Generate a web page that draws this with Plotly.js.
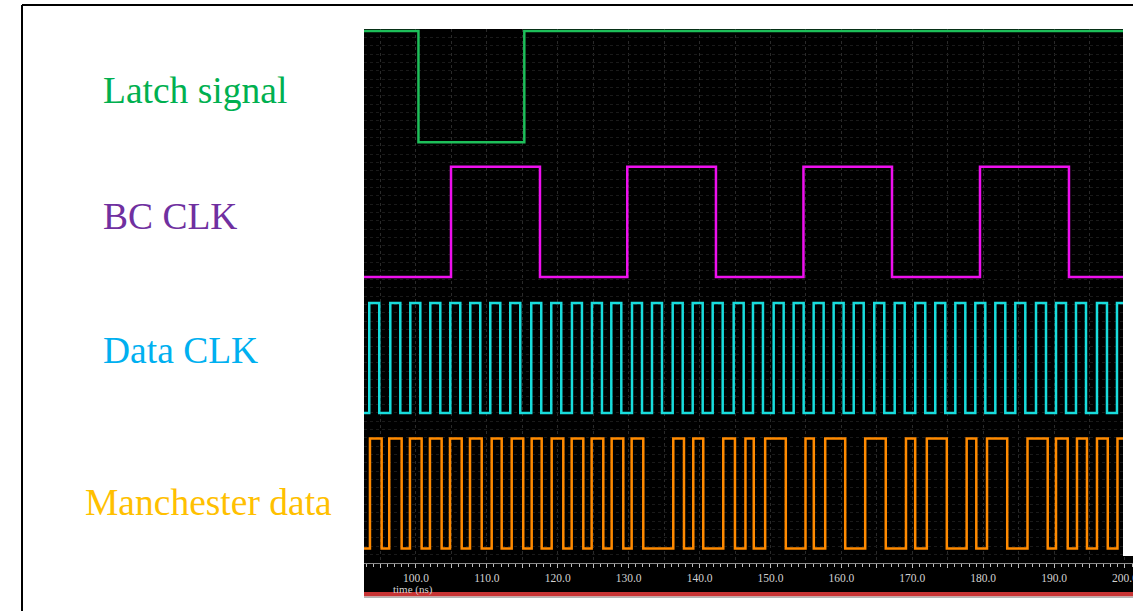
<!DOCTYPE html>
<html>
<head>
<meta charset="utf-8">
<script src="https://cdn.plot.ly/plotly-3.0.1.min.js"></script>
<style>
  html, body { margin: 0; padding: 0; background: #ffffff; }
  #chart { width: 1133px; height: 611px; }
</style>
</head>
<body>
<div id="chart"></div>
<script>
// ---- Signal data (times in ns) ----
const signalNames = ['Latch signal', 'BC CLK', 'Data CLK', 'Manchester data'];

// Latch: high, pulses low once
const latchStart = 1;
const latchFalls = [100.35];
const latchRises = [115.28];

// BC clock (40 MHz)
const bcStart = 0;
const bcRises = [104.94, 129.80, 154.65, 179.55];
const bcFalls = [117.49, 142.31, 167.14, 192.10];

// Data clock
const dataClkStart = 0;
const dataClkRises = [93.41, 96.38, 99.20, 102.02, 104.84, 107.66, 110.48, 113.30, 116.26, 119.08,
  122.00, 124.82, 127.55, 130.47, 133.29, 136.21, 139.03, 141.85, 144.81, 147.53,
  150.45, 153.27, 156.09, 158.91, 161.74, 164.64, 167.52, 170.42, 173.24, 176.07,
  178.89, 181.71, 184.53, 187.45, 190.27, 193.09, 196.05, 198.87];
const dataClkFalls = [94.82, 97.79, 100.61, 103.43, 106.25, 109.07, 111.89, 114.71, 117.67, 120.49,
  123.41, 126.23, 128.96, 131.88, 134.70, 137.62, 140.44, 143.26, 146.22, 148.94,
  151.86, 154.68, 157.50, 160.32, 163.15, 166.05, 168.93, 171.83, 174.65, 177.48,
  180.30, 183.12, 185.94, 188.86, 191.68, 194.50, 197.46];

// Manchester encoded data
const manchesterStart = 0;
const manchesterRises = [93.51, 96.23, 99.15, 101.97, 104.80, 107.62, 110.68, 113.50, 116.32, 119.14,
  121.96, 124.78, 127.60, 130.42, 136.29, 139.11, 143.34, 146.47, 149.25, 154.94,
  157.72, 163.36, 169.11, 172.05, 177.67, 180.54, 186.25, 190.27, 193.23, 196.05, 198.94];
const manchesterFalls = [95.16, 97.98, 100.80, 103.62, 106.45, 109.27, 112.09, 115.13, 117.73, 120.78,
  123.60, 126.42, 129.24, 132.06, 137.80, 140.52, 144.99, 147.64, 152.16, 156.11,
  160.54, 166.26, 170.41, 174.87, 179.03, 183.39, 189.10, 191.92, 194.64, 197.57];

// Time axis
const viewStart = 92.67;
const viewEnd = 199.72;
const tickTimes = [100, 110, 120, 130, 140, 150, 160, 170, 180, 190, 200];
const tickLabels = ['100.0', '110.0', '120.0', '130.0', '140.0', '150.0', '160.0', '170.0', '180.0', '190.0', '200.0'];
const axisTitle = 'time (ns)';

// ---- Page geometry (pixels) ----
const W = 1133, H = 611;
const PL = 364, PR = 1133, PT = 29, PB = 563;
const waveRight = 1123;
const fx = px => (px - PL) / (PR - PL);
const fy = py => (PB - py) / (PB - PT);
const pxPerNs = (waveRight - PL) / (viewEnd - viewStart);
const axisEnd = viewStart + (PR - PL) / pxPerNs;

// lane placement: pixel rows of the high and low levels
const lanes = [
  { hi: 31,    lo: 142.3, color: '#1ebf5a', label: '#00b050', labelX: 101, labelY: 91 },
  { hi: 166.7, lo: 277,   color: '#ee10ee', label: '#7030a0', labelX: 101, labelY: 217 },
  { hi: 303,   lo: 413,   color: '#18dcdc', label: '#00b0f0', labelX: 101, labelY: 351 },
  { hi: 438.5, lo: 548.5, color: '#ff8a00', label: '#ffc000', labelX: 83,  labelY: 502 }
];

// Build a digital step waveform from start level and edge lists
function stepWave(start, rises, falls) {
  const edges = rises.map(t => [t, 1]).concat(falls.map(t => [t, 0])).sort((a, b) => a[0] - b[0]);
  const xs = [viewStart], ys = [start];
  edges.forEach(([t, lvl]) => { xs.push(t); ys.push(lvl); });
  xs.push(viewEnd); ys.push(ys[ys.length - 1]);
  return { xs, ys };
}

const waves = [
  stepWave(latchStart, latchRises, latchFalls),
  stepWave(bcStart, bcRises, bcFalls),
  stepWave(dataClkStart, dataClkRises, dataClkFalls),
  stepWave(manchesterStart, manchesterRises, manchesterFalls)
];

const traces = [
  // carrier for the background grid subplot
  { x: [viewStart], y: [0], xaxis: 'x', yaxis: 'y', mode: 'lines', hoverinfo: 'skip', showlegend: false }
];

const layout = {
  width: W, height: H,
  margin: { l: PL, r: W - PR, t: PT, b: H - PB, pad: 0 },
  paper_bgcolor: '#ffffff',
  plot_bgcolor: 'rgba(0,0,0,0)',
  showlegend: false,
  font: { family: 'Liberation Serif, Times New Roman, serif' },
  xaxis: {
    domain: [0, 1], anchor: 'y',
    range: [viewStart, axisEnd],
    tickmode: 'array', tickvals: [], ticktext: [],
    ticks: 'outside', ticklen: 4, tickwidth: 1, tickcolor: '#bdbdbd',
    ticklabeloverflow: 'allow',
    showline: true, linecolor: '#8a8a8a', linewidth: 1,
    showgrid: true, gridcolor: '#2a2a2a', gridwidth: 1, griddash: 'dot',
    zeroline: false,
    tickfont: { family: 'Liberation Serif, serif', size: 11.5, color: '#d2d2d2' },
    minor: { tickmode: 'linear', tick0: 0, dtick: 1, ticks: 'outside', ticklen: 2.5, tickcolor: '#bdbdbd', showgrid: false },
    fixedrange: true
  },
  yaxis: {
    domain: [0, 1], anchor: 'x',
    range: [0, 64], dtick: 1, tick0: 0,
    showgrid: true, gridcolor: '#1a1a1a', gridwidth: 1, griddash: 'dot',
    showticklabels: false, ticks: '', zeroline: false, showline: false,
    fixedrange: true
  },
  xaxis2: {
    domain: [0, 1], anchor: 'y2',
    range: [viewStart, axisEnd],
    visible: false, showgrid: false, zeroline: false, fixedrange: true
  },
  shapes: [],
  annotations: []
};

// 5 ns grid with labels every 10 ns
for (let t = 95; t <= 200; t += 5) {
  layout.xaxis.tickvals.push(t);
  const k = tickTimes.indexOf(t);
  layout.xaxis.ticktext.push(k >= 0 ? tickLabels[k] : '');
}

const pad = 2.5;
lanes.forEach((ln, i) => {
  const s = ln.lo - ln.hi;
  const topPx = Math.max(PT, ln.hi - pad);
  const botPx = ln.lo + pad;
  const yName = 'yaxis' + (i + 2);
  layout[yName] = {
    domain: [fy(botPx), fy(topPx)], anchor: 'x2',
    range: [-(botPx - ln.lo) / s, 1 + (ln.hi - topPx) / s],
    visible: false, showgrid: false, zeroline: false, fixedrange: true
  };
  traces.push({
    x: waves[i].xs, y: waves[i].ys,
    xaxis: 'x2', yaxis: 'y' + (i + 2),
    mode: 'lines', line: { shape: 'hv', color: ln.color, width: 2.5 },
    hoverinfo: 'skip', showlegend: false
  });
  layout.annotations.push({
    xref: 'paper', yref: 'paper', x: fx(ln.labelX), y: fy(ln.labelY),
    xanchor: 'left', yanchor: 'middle', showarrow: false,
    text: signalNames[i],
    font: { family: 'Liberation Serif, Times New Roman, serif', size: 37.5, color: ln.label }
  });
});

// axis title inside the time strip
layout.annotations.push({
  xref: 'paper', yref: 'paper', x: fx(391), y: fy(589),
  xanchor: 'left', yanchor: 'middle', showarrow: false,
  text: axisTitle,
  font: { family: 'Liberation Serif, serif', size: 11, color: '#d2d2d2' }
});

const rect = (x0, y0, x1, y1, color, layer) => ({
  type: 'rect', xref: 'paper', yref: 'paper',
  x0: fx(x0), x1: fx(x1), y0: fy(y1), y1: fy(y0),
  fillcolor: color, line: { width: 0 }, layer: layer || 'below'
});
const seg = (x0, y0, x1, y1, color, w) => ({
  type: 'line', xref: 'paper', yref: 'paper',
  x0: fx(x0), x1: fx(x1), y0: fy(y0), y1: fy(y1),
  line: { color: color, width: w }, layer: 'below'
});

layout.shapes.push(
  rect(PL, PT, waveRight, 592, '#000000'),          // waveform window
  rect(waveRight, 556, PR, 592, '#000000'),         // time strip
  rect(waveRight, PT, PR, 556, '#ffffff', 'above'), // window edge
  rect(PL, 592, PR, 596.5, '#c83434'),              // status bar
  rect(PL, 596.5, PR, 598, '#b4b4b4'),
  seg(22, 5, W, 5, '#000000', 2),                   // page frame
  seg(22, 5, 22, H, '#000000', 2)
);

Plotly.newPlot('chart', traces, layout, { staticPlot: true, displayModeBar: false });
</script>
</body>
</html>
